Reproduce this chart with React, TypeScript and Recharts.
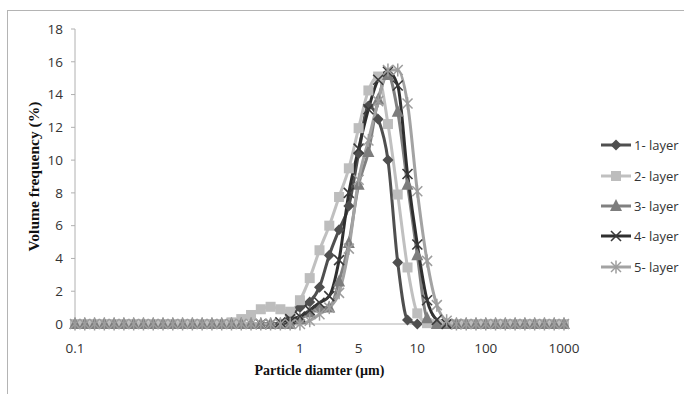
import React from "react"
import { LineChart, Line, XAxis, YAxis, Legend } from "recharts"

// size classes are evenly spaced categories, only a few of them carry a label
const tickIndex = [0, 23, 29, 35, 42, 50]
const tickLabels = ["0.1", "1", "5", "10", "100", "1000"]
const yTicks = [0, 2, 4, 6, 8, 10, 12, 14, 16, 18]

const layer1 = [
  null, null, null, null, null, null, null, null, null, null, null, null, null, null, null, null, null, null, null, null, null,
  0, 0.5, 1.0, 1.35, 2.25, 4.2, 5.75, 7.2, 10.4, 13.3, 12.5, 10.0, 3.75, 0.25, 0,
  null, null, null, null, null, null, null, null, null, null, null, null, null, null, null,
]
const layer2 = [
  0, 0, 0, 0, 0, 0, 0, 0, 0, 0, 0, 0, 0, 0, 0, 0,
  0.1, 0.3, 0.55, 0.9, 1.05, 0.9, 0.75, 1.45, 2.8, 4.5, 6.0, 7.75, 9.5, 11.95, 14.25, 15.1, 12.2, 7.9, 3.45, 0.65, 0.05,
  0, 0, 0, 0, 0, 0, 0, 0, 0, 0, 0, 0, 0, 0,
]
const layer3 = [
  0, 0, 0, 0, 0, 0, 0, 0, 0, 0, 0, 0, 0, 0, 0, 0, 0, 0, 0, 0, 0, 0, 0,
  0.3, 0.7, 1.0, 1.0, 2.6, 4.95, 8.5, 10.5, 13.7, 15.2, 12.95, 8.5, 4.2, 0.35,
  0, 0, 0, 0, 0, 0, 0, 0, 0, 0, 0, 0, 0, 0,
]
const layer4 = [
  null, null, null, null, null, null, null, null, null, null, null, null, null, null, null, null, null, null, null,
  0, 0, 0.1, 0.3, 0.45, 0.85, 1.3, 1.7, 3.9, 8.0, 10.7, 13.1, 14.9, 15.4, 14.55, 9.15, 4.85, 1.45, 0.25, 0, 0,
  null, null, null, null, null, null, null, null, null, null, null,
]
const layer5 = [
  0, 0, 0, 0, 0, 0, 0, 0, 0, 0, 0, 0, 0, 0, 0, 0, 0, 0, 0, 0, 0, 0, 0, 0,
  0.2, 0.6, 1.0, 1.9, 4.6, 8.8, 11.2, 13.6, 15.5, 15.5, 13.45, 8.1, 3.85, 1.15, 0.2,
  0, 0, 0, 0, 0, 0, 0, 0, 0, 0, 0, 0,
]

const data = layer1.map((_, i) => ({
  i,
  l1: layer1[i],
  l2: layer2[i],
  l3: layer3[i],
  l4: layer4[i],
  l5: layer5[i],
}))

const layers = [
  { key: "l1", name: "1- layer", color: "#4f4f4f", mark: "#4f4f4f", shape: "diamond" },
  { key: "l2", name: "2- layer", color: "#c0c0c0", mark: "#bdbdbd", shape: "square" },
  { key: "l3", name: "3- layer", color: "#808080", mark: "#7d7d7d", shape: "triangle" },
  { key: "l4", name: "4- layer", color: "#2f2f2f", mark: "#3a3a3a", shape: "x" },
  { key: "l5", name: "5- layer", color: "#a3a3a3", mark: "#9d9d9d", shape: "star" },
]

const sans = "'Open Sans', sans-serif"
const serif = "'Liberation Serif', 'Times New Roman', serif"

function Marker({ cx, cy, shape, color }: any) {
  if (cx == null || cy == null) return <g />
  switch (shape) {
    case "diamond":
      return <polygon points={`${cx},${cy - 5.5} ${cx + 5.5},${cy} ${cx},${cy + 5.5} ${cx - 5.5},${cy}`} fill={color} />
    case "square":
      return <rect x={cx - 5} y={cy - 5} width={10} height={10} fill={color} />
    case "triangle":
      return <polygon points={`${cx},${cy - 7} ${cx + 6},${cy + 5} ${cx - 6},${cy + 5}`} fill={color} />
    case "x":
      return (
        <g stroke={color} strokeWidth={1.6}>
          <line x1={cx - 5} y1={cy - 5} x2={cx + 5} y2={cy + 5} />
          <line x1={cx - 5} y1={cy + 5} x2={cx + 5} y2={cy - 5} />
        </g>
      )
    default:
      return (
        <g stroke={color} strokeWidth={1.5}>
          <line x1={cx - 5} y1={cy - 5} x2={cx + 5} y2={cy + 5} />
          <line x1={cx - 5} y1={cy + 5} x2={cx + 5} y2={cy - 5} />
          <line x1={cx} y1={cy - 6.5} x2={cx} y2={cy + 6.5} />
        </g>
      )
  }
}

function LegendBox() {
  return (
    <div style={{ width: 100, fontFamily: sans, fontSize: 13, color: "#333" }}>
      {layers.map((l) => (
        <div key={l.key} style={{ display: "flex", alignItems: "center", height: 30.4 }}>
          <svg width={31} height={14}>
            <line x1={0} y1={7} x2={30} y2={7} stroke={l.color} strokeWidth={3} />
            <Marker cx={15} cy={7} shape={l.shape} color={l.mark} />
          </svg>
          <span style={{ marginLeft: 2 }}>{l.name}</span>
        </div>
      ))}
    </div>
  )
}

export default function App() {
  return (
    <div style={{ position: "absolute", left: 0, top: 0, width: 684, height: 394, background: "#fff", overflow: "hidden" }}>
      <div
        style={{
          position: "absolute",
          left: 7,
          top: 10,
          width: 700,
          height: 400,
          borderTop: "1px solid #b4b4b4",
          borderLeft: "1px solid #b4b4b4",
        }}
      />
      <div style={{ position: "absolute", left: 0, top: 0 }}>
        <LineChart width={684} height={394} data={data} margin={{ top: 29, right: 20, bottom: 0, left: 25 }}>
          <XAxis
            type="number"
            dataKey="i"
            domain={[0, 50]}
            ticks={tickIndex}
            interval={0}
            tickFormatter={(v: number) => tickLabels[tickIndex.indexOf(v)]}
            height={70}
            axisLine={{ stroke: "#b0b0b0" }}
            tickLine={false}
            tickSize={0}
            tickMargin={19}
            tick={{ fill: "#333", fontSize: 13.5, fontFamily: sans }}
            label={{
              content: (p: any) => (
                <text
                  x={p.viewBox.x + p.viewBox.width / 2}
                  y={p.viewBox.y + 51}
                  textAnchor="middle"
                  fontFamily={serif}
                  fontWeight="bold"
                  fontSize={14}
                  fill="#111"
                >
                  Particle diamter (µm)
                </text>
              ),
            }}
          />
          <YAxis
            domain={[0, 18]}
            ticks={yTicks}
            interval={0}
            width={50}
            axisLine={{ stroke: "#b0b0b0" }}
            tickLine={{ stroke: "#b0b0b0" }}
            tickSize={4}
            tickMargin={8}
            tick={{ fill: "#333", fontSize: 13.5, fontFamily: sans }}
            label={{
              content: (p: any) => {
                const cx = 33
                const cy = p.viewBox.y + p.viewBox.height / 2
                return (
                  <text
                    x={cx}
                    y={cy}
                    transform={`rotate(-90, ${cx}, ${cy})`}
                    textAnchor="middle"
                    dominantBaseline="central"
                    fontFamily={serif}
                    fontWeight="bold"
                    fontSize={15.5}
                    fill="#111"
                  >
                    Volume frequency (%)
                  </text>
                )
              },
            }}
          />
          <Legend
            layout="vertical"
            align="right"
            verticalAlign="middle"
            width={100}
            content={() => <LegendBox />}
            wrapperStyle={{ left: 601, top: 130, right: "auto" }}
          />
          {layers.map((l) => (
            <Line
              key={l.key}
              dataKey={l.key}
              name={l.name}
              type="monotone"
              stroke={l.color}
              strokeWidth={3}
              isAnimationActive={false}
              dot={(p: any) => (
                <Marker key={`${l.key}-${p.index}`} cx={p.cx} cy={p.cy} shape={l.shape} color={l.mark} />
              )}
              activeDot={false}
            />
          ))}
        </LineChart>
      </div>
    </div>
  )
}
